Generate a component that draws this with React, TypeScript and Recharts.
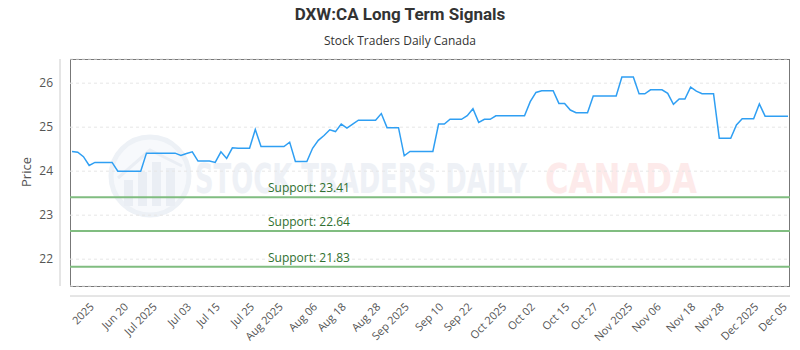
import React from "react";
import { LineChart, Line, XAxis, YAxis, CartesianGrid, ReferenceLine } from "recharts";

// closing prices, one per trading day
const prices = [
  24.45, 24.43, 24.33, 24.13, 24.2, 24.2, 24.2, 24.2, 24.0, 24.0,
  24.0, 24.0, 24.0, 24.41, 24.41, 24.41, 24.41, 24.41, 24.41, 24.36,
  24.4, 24.44, 24.23, 24.23, 24.23, 24.2, 24.44, 24.29, 24.53, 24.52,
  24.52, 24.52, 24.95, 24.56, 24.56, 24.56, 24.56, 24.56, 24.66, 24.22,
  24.22, 24.22, 24.52, 24.7, 24.81, 24.94, 24.9, 25.07, 24.98, 25.07,
  25.16, 25.16, 25.16, 25.16, 25.31, 24.99, 24.99, 24.99, 24.35, 24.45,
  24.45, 24.45, 24.45, 24.45, 25.07, 25.07, 25.18, 25.18, 25.18, 25.26,
  25.42, 25.11, 25.18, 25.18, 25.26, 25.26, 25.26, 25.26, 25.26, 25.26,
  25.58, 25.79, 25.83, 25.83, 25.83, 25.54, 25.54, 25.39, 25.33, 25.33,
  25.33, 25.71, 25.71, 25.71, 25.71, 25.71, 26.14, 26.14, 26.14, 25.76,
  25.76, 25.85, 25.85, 25.85, 25.77, 25.52, 25.64, 25.64, 25.91, 25.82,
  25.76, 25.76, 25.76, 24.75, 24.75, 24.75, 25.05, 25.19, 25.19, 25.19,
  25.53, 25.25, 25.25, 25.25, 25.25, 25.25,
];

const tickIdx = [3, 9, 14, 20, 25, 31, 36, 42, 47, 53, 58, 64, 69, 75, 80, 86, 91, 97, 102, 108, 113, 119, 124];
const tickLabels = [
  "2025", "Jun 20", "Jul 2025", "Jul 03", "Jul 15", "Jul 25", "Aug 2025", "Aug 06",
  "Aug 18", "Aug 28", "Sep 2025", "Sep 10", "Sep 22", "Oct 2025", "Oct 02", "Oct 15",
  "Oct 27", "Nov 2025", "Nov 06", "Nov 18", "Nov 28", "Dec 2025", "Dec 05",
];

const supports = [23.41, 22.64, 21.83];
const yTicks = [22, 23, 24, 25, 26];

const data = prices.map((p, i) => ({ i, price: p }));
const labelAt: Record<number, string> = {};
tickIdx.forEach((t, k) => (labelAt[t] = tickLabels[k]));

const SupportLabel = (props: any) => {
  const vb = props.viewBox || {};
  return (
    <text x={vb.x + 198} y={vb.y - 5} fill="#2f6f2f" fontSize={12} fontFamily="'Open Sans', sans-serif">
      {props.txt}
    </text>
  );
};

// faint background logo + wordmark
const Watermark = () => (
  <svg width={800} height={350} style={{ position: "absolute", left: 0, top: 0 }}>
    <circle cx={150} cy={176} r={39} fill="#f7f9fc" stroke="#edf1f6" strokeWidth={5} />
    <rect x={124} y={180} width={9} height={26} fill="#eaeef4" />
    <rect x={138} y={172} width={9} height={34} fill="#eaeef4" />
    <rect x={152} y={162} width={9} height={44} fill="#eaeef4" />
    <rect x={166} y={168} width={9} height={38} fill="#eaeef4" />
    <polyline points="118,178 150,150 182,166" fill="none" stroke="#eaeef4" strokeWidth={3} />
    <text x={195} y={193} fontSize={40} fontWeight="bold" fill="#eef1f6"
      fontFamily="'DejaVu Sans Condensed', 'Liberation Sans Narrow', sans-serif"
      textLength={332} lengthAdjust="spacingAndGlyphs">STOCK TRADERS DAILY</text>
    <text x={545} y={193} fontSize={40} fontWeight="bold" fill="#fdeaea"
      fontFamily="'DejaVu Sans Condensed', 'Liberation Sans Narrow', sans-serif"
      textLength={152} lengthAdjust="spacingAndGlyphs">CANADA</text>
  </svg>
);

export default function App() {
  return (
    <div style={{ position: "absolute", left: 0, top: 0, width: 800, height: 350, background: "#fff", overflow: "hidden" }}>
      <Watermark />
      <div style={{ position: "absolute", left: 70, top: 59, width: 720, height: 228, border: "1px solid #777", boxSizing: "border-box" }} />
      <div style={{ position: "absolute", top: 4, width: 800, textAlign: "center", fontFamily: "Roboto, sans-serif", fontWeight: "bold", fontSize: 17, color: "#333" }}>
        DXW:CA Long Term Signals
      </div>
      <div style={{ position: "absolute", top: 32, width: 800, textAlign: "center", fontFamily: "'Open Sans', sans-serif", fontSize: 12, color: "#333" }}>
        Stock Traders Daily Canada
      </div>
      <div style={{ position: "absolute", left: 26, top: 172, transform: "translate(-50%, -50%) rotate(-90deg)", fontFamily: "'Open Sans', sans-serif", fontSize: 13, color: "#555" }}>
        Price
      </div>
      <div style={{ position: "absolute", left: 0, top: 0 }}>
        <LineChart width={800} height={350} data={data} margin={{ top: 59, right: 10, bottom: 0, left: 0 }}>
          <CartesianGrid vertical={false} stroke="#e6e6e6" strokeDasharray="3 3" />
          <XAxis
            type="number"
            dataKey="i"
            domain={[0, prices.length - 1]}
            ticks={tickIdx}
            interval={0}
            tickFormatter={(v: number) => labelAt[v] ?? ""}
            angle={-45}
            textAnchor="end"
            tickLine={false}
            tickSize={0}
            tickMargin={16}
            height={64}
            padding={{ left: 2, right: 2 }}
            axisLine={{ stroke: "#ccc", transform: "translate(0,10)" } as any}
            tick={{ fill: "#555", fontSize: 11, fontFamily: "'Open Sans', sans-serif" }}
          />
          <YAxis
            type="number"
            domain={[21.39, 26.55]}
            ticks={yTicks}
            allowDataOverflow
            width={70}
            tickLine={false}
            tickSize={0}
            tickMargin={17}
            axisLine={{ stroke: "#ccc", transform: "translate(-10,0)" } as any}
            tick={{ fill: "#555", fontSize: 12, fontFamily: "'Open Sans', sans-serif" }}
          />
          {supports.map((s) => (
            <ReferenceLine
              key={s}
              y={s}
              stroke="#80bd80"
              strokeWidth={2}
              label={<SupportLabel txt={`Support: ${s.toFixed(2)}`} />}
            />
          ))}
          <Line
            type="linear"
            dataKey="price"
            stroke="#2f9ff3"
            strokeWidth={1.5}
            dot={false}
            isAnimationActive={false}
          />
        </LineChart>
      </div>
    </div>
  );
}
